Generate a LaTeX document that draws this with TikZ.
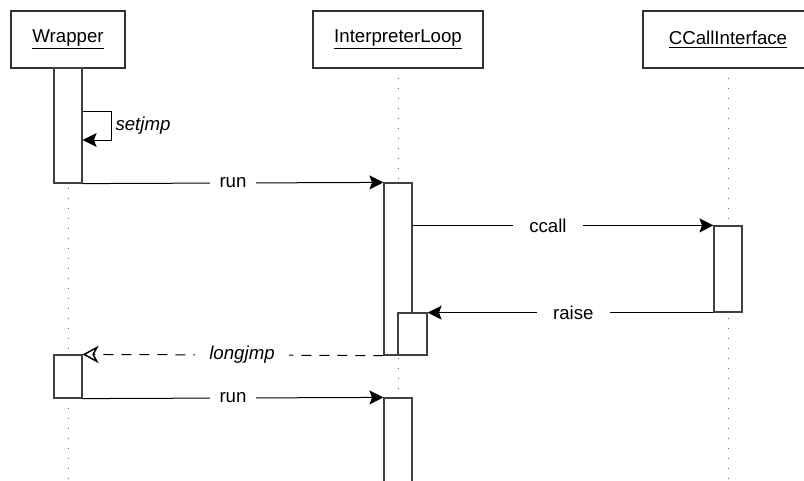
\documentclass[tikz,border=0pt]{standalone}
\usepackage{fontspec}
\setmainfont{Liberation Sans}
\usetikzlibrary{arrows.meta,fit}
\begin{document}
\begin{tikzpicture}[x=0.75pt,y=-0.75pt,
  font=\fontsize{14}{17}\selectfont,
  head/.style={draw=black!80,line width=0.9pt,inner sep=0pt,fill=white},
  act/.style={draw=black!75,line width=0.9pt,inner sep=0pt,fill=white},
  life/.style={draw=black!60,line width=0.75pt,dash pattern=on 0.75pt off 6.75pt},
  msg/.style={draw=black,line width=0.75pt,-{Stealth[length=10.5pt,width=10.5pt,inset=2pt]}},
  ret/.style={draw=black,line width=0.75pt,dash pattern=on 7.5pt off 6pt,
    -{Stealth[open,length=12pt,width=13pt,inset=3.5pt,line width=1.1pt]}},
  lbl/.style={fill=white,inner xsep=7.5pt,inner ysep=2pt,text=black}]
\useasboundingbox (0,0) rectangle (804,480);
\begin{scope}
\clip (0,0) rectangle (804,480);

% lifelines
\draw[life] (68,68) -- (68,480);
\draw[life] (398,68) -- (398,480);
\draw[life] (728,68) -- (728,480);

% participant headers
\node[head,fit={(11,11)(125,68)}] (hw) {};
\node at (hw.center) {\underline{Wrapper}};
\node[head,fit={(313,11)(483,68)}] (hi) {};
\node at (hi.center) {\underline{InterpreterLoop}};
\node[head,fit={(643,11)(813,68)}] (hc) {};
\node at (hc.center) {\underline{CCallInterface}};

% activation bars
\node[act,fit={(54,68)(82,183)}] (wa) {};
\node[act,fit={(384,183)(412,355)}] (ia) {};
\node[act,fit={(398,313)(427,355)}] (ib) {};
\node[act,fit={(714,226)(742,312)}] (ca) {};
\node[act,fit={(54,355)(82,398)}] (wb) {};
\node[act,fit={(384,398)(412,500)}] (ic) {};

% self call
\coordinate (sja) at (111,111);
\coordinate (sjb) at (111,140);
\draw[msg] (wa.east |- sja) -- (sja) |- node[pos=0.25,right,inner sep=3pt]{\itshape setjmp} (wa.east |- sjb);

% messages
\draw[msg] (wa.south east) -- node[lbl,pos=0.5]{run} (ia.north west);
\draw[msg] (ca.north west -| ia.east) -- node[lbl,pos=0.45,inner xsep=12pt]{ccall} (ca.north west);
\draw[msg] (ca.south west) -- node[lbl,pos=0.49,inner xsep=12pt]{raise} (ca.south west -| ib.east);
\draw[ret] (ia.south west) -- node[lbl,pos=0.47,inner xsep=11pt]{\itshape longjmp} (wb.north east);
\draw[msg] (wb.south east) -- node[lbl,pos=0.5]{run} (ic.north west);
\end{scope}
\end{tikzpicture}
\end{document}
